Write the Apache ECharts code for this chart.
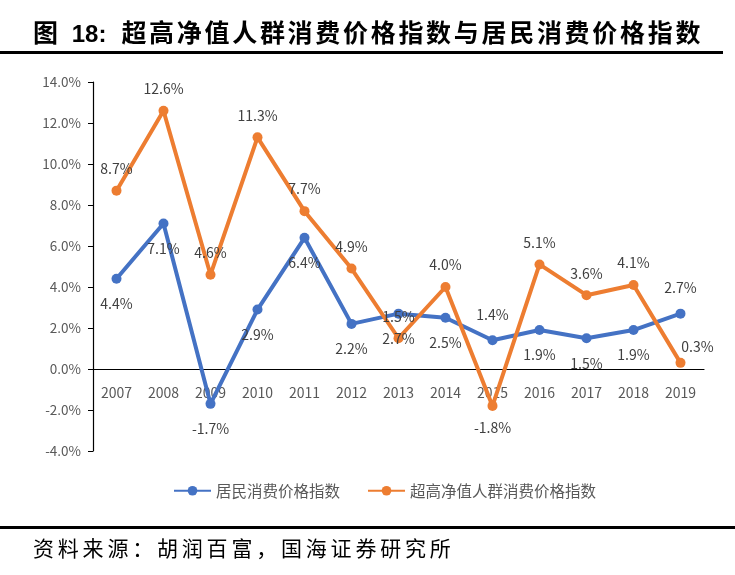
<!doctype html>
<html lang="zh">
<head>
    <meta charset="UTF-8">
    <script src="https://cdn.jsdelivr.net/npm/echarts@6/dist/echarts.min.js"></script>
    <title>超高净值人群消费价格指数与居民消费价格指数</title>
    <style>
        html, body { margin: 0; padding: 0; background: #fff; }
        #wrap { position: relative; width: 735px; height: 575px; }
        #main { position: absolute; left: 0; top: 0; width: 735px; height: 575px; }
        .title {
            position: absolute; left: 33px; top: 13px; white-space: nowrap;
            font: bold 25px "Noto Sans CJK SC", sans-serif; letter-spacing: 2.7px; color: #000;
        }
        .title .num {
            font-family: "Liberation Sans", Arial, sans-serif; font-size: 24px;
            letter-spacing: 0; margin-left: 11px; margin-right: 15px;
        }
        .rule { position: absolute; left: 0; height: 3px; background: #000; }
        .source {
            position: absolute; left: 33px; top: 532px; white-space: nowrap;
            font: 21px "Noto Sans CJK SC", sans-serif; letter-spacing: 3.8px; color: #000;
        }
    </style>
</head>
<body>
<div id="wrap">
    <div id="main"></div>
    <div class="title">图<span class="num">18:</span>超高净值人群消费价格指数与居民消费价格指数</div>
    <div class="rule" style="top:51px;width:723px;"></div>
    <div class="rule" style="top:526px;width:735px;"></div>
    <div class="source">资料来源：胡润百富，国海证券研究所</div>
</div>
<script>
    // 年份
    var years = ['2007', '2008', '2009', '2010', '2011', '2012', '2013',
                 '2014', '2015', '2016', '2017', '2018', '2019'];
    // 居民消费价格指数 (%)
    var cpiValues = [4.4, 7.1, -1.7, 2.9, 6.4, 2.2, 2.7, 2.5, 1.4, 1.9, 1.5, 1.9, 2.7];
    // 超高净值人群消费价格指数 (%)
    var hnwValues = [8.7, 12.6, 4.6, 11.3, 7.7, 4.9, 1.5, 4.0, -1.8, 5.1, 3.6, 4.1, 0.3];
    // 纵轴刻度
    var yMin = -4, yMax = 14, yStep = 2;

    var seriesNames = ['居民消费价格指数', '超高净值人群消费价格指数'];

    var myChart = echarts.init(document.getElementById('main'));

    function pct(p) {
        return p.value.toFixed(1) + '%';
    }

    // 个别标签位置调整
    var cpiData = cpiValues.map(function (v, i) {
        var d = { value: v };
        if (years[i] === '2015' || years[i] === '2019') {
            d.label = { position: 'top', distance: 14 };
        }
        return d;
    });
    var hnwData = hnwValues.map(function (v, i) {
        var d = { value: v };
        if (years[i] === '2015') {
            d.label = { position: 'bottom', distance: 10 };
        }
        if (years[i] === '2019') {
            d.label = { position: 'top', distance: 6, offset: [17, 2] };
        }
        return d;
    });

    var gridTop = 82, gridBottom = 124, gridH = 575 - gridTop - gridBottom;
    // 横轴放在 0 的位置
    var xOffset = -gridH * (0 - yMin) / (yMax - yMin);

    var option = {
        animation: false,
        textStyle: { fontFamily: '"Noto Sans CJK SC", sans-serif' },
        legend: {
            data: seriesNames,
            left: 168,
            top: 478,
            itemWidth: 37,
            itemHeight: 12,
            itemGap: 27,
            textStyle: { fontSize: 15.5, color: '#595959' }
        },
        grid: { left: 93, right: 31, top: gridTop, bottom: gridBottom },
        xAxis: {
            type: 'category',
            data: years,
            boundaryGap: true,
            offset: xOffset,
            axisLine: { onZero: false, lineStyle: { color: '#000', width: 1.2 } },
            axisTick: { show: false },
            axisLabel: { color: '#595959', fontSize: 14, margin: 17 }
        },
        yAxis: {
            type: 'value',
            min: yMin,
            max: yMax,
            interval: yStep,
            axisLine: { show: true, lineStyle: { color: '#000', width: 1.2 } },
            axisTick: { show: true, length: 5, lineStyle: { color: '#000' } },
            splitLine: { show: false },
            axisLabel: {
                color: '#595959', fontSize: 13.5, margin: 12,
                formatter: function (v) { return v.toFixed(1) + '%'; }
            }
        },
        series: [
            {
                name: seriesNames[0],
                type: 'line',
                data: cpiData,
                color: '#4472C4',
                symbol: 'circle',
                symbolSize: 10,
                lineStyle: { width: 4 },
                label: {
                    show: true, position: 'bottom', distance: 13,
                    color: '#404040', fontSize: 14, formatter: pct
                }
            },
            {
                name: seriesNames[1],
                type: 'line',
                data: hnwData,
                color: '#ED7D31',
                symbol: 'circle',
                symbolSize: 10,
                lineStyle: { width: 4 },
                label: {
                    show: true, position: 'top', distance: 10,
                    color: '#404040', fontSize: 14, formatter: pct
                }
            }
        ]
    };

    myChart.setOption(option);
</script>
</body>
</html>
